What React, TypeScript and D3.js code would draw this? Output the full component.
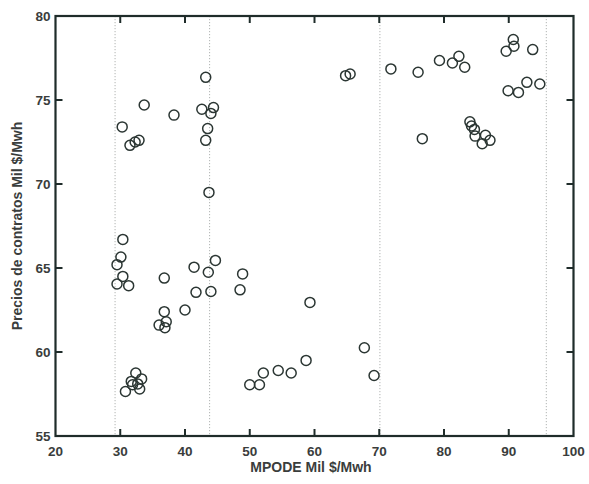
import React from "react";
import * as d3 from "d3";

const mpode: number[] = [
  30.3, 33.7, 31.5, 32.3, 32.9, 38.3, 43.2, 42.6, 44.4, 44.0, 43.5, 43.2, 43.7,
  30.4, 30.1, 29.5, 30.4, 29.5, 31.3, 36.8, 41.4, 44.7, 43.6, 41.7, 44.0, 48.9, 48.5,
  40.0, 36.8, 37.1, 36.0, 36.9,
  32.4, 33.3, 31.9, 32.7, 33.0, 30.8, 31.7,
  50.0, 51.5, 52.1, 54.4, 56.4, 58.7, 59.3, 67.7, 69.2,
  64.8, 65.5, 71.8, 76.0, 79.3, 81.3, 82.3, 83.2, 89.6, 90.7, 90.8, 93.7,
  89.9, 91.5, 92.8, 94.8, 76.65,
  84.0, 84.25, 84.7, 84.8, 86.4, 87.1, 85.9,
];
const precios: number[] = [
  73.4, 74.7, 72.3, 72.5, 72.6, 74.1, 76.35, 74.45, 74.55, 74.2, 73.3, 72.6, 69.5,
  66.7, 65.65, 65.2, 64.5, 64.05, 63.95, 64.4, 65.05, 65.45, 64.75, 63.55, 63.6, 64.65, 63.7,
  62.5, 62.4, 61.8, 61.6, 61.45,
  58.75, 58.4, 58.05, 58.1, 57.8, 57.65, 58.25,
  58.05, 58.05, 58.75, 58.9, 58.75, 59.5, 62.95, 60.25, 58.6,
  76.45, 76.55, 76.85, 76.65, 77.35, 77.2, 77.6, 76.95, 77.9, 78.6, 78.2, 78.0,
  75.55, 75.45, 76.05, 75.95, 72.7,
  73.7, 73.45, 73.25, 72.85, 72.9, 72.6, 72.4,
];
const xTicks: number[] = [20, 30, 40, 50, 60, 70, 80, 90, 100];
const yTicks: number[] = [55, 60, 65, 70, 75, 80];
const refLines: number[] = [29.2, 43.8, 70.1, 95.8];

export default function App() {
  const W = 589, H = 484;
  const left = 55.5, right = 573.5, top = 16, bottom = 436;
  const x = d3.scaleLinear().domain([20, 100]).range([left, right]);
  const y = d3.scaleLinear().domain([55, 80]).range([bottom, top]);
  const axisCol = "#1f2c2a";
  const textCol = "#3a3d3c";
  const font = "'Liberation Sans', Arial, sans-serif";
  const tl = 7;
  return (
    <svg width={W} height={H} style={{ position: "absolute", left: 0, top: 0, background: "#fff" }}>
      {refLines.map((v, i) => (
        <line key={"r" + i} x1={x(v)} x2={x(v)} y1={top} y2={bottom}
          stroke="#a8acaa" strokeWidth={0.9} strokeDasharray="1.2,1.8" />
      ))}
      {xTicks.filter((t) => t > 20 && t < 100).map((t) => (
        <g key={"xt" + t}>
          <line x1={x(t)} x2={x(t)} y1={bottom} y2={bottom - tl} stroke={axisCol} strokeWidth={2} />
          <line x1={x(t)} x2={x(t)} y1={top} y2={top + tl} stroke={axisCol} strokeWidth={2} />
        </g>
      ))}
      {yTicks.filter((t) => t > 55 && t < 80).map((t) => (
        <g key={"yt" + t}>
          <line x1={left} x2={left + tl} y1={y(t)} y2={y(t)} stroke={axisCol} strokeWidth={2} />
          <line x1={right} x2={right - tl} y1={y(t)} y2={y(t)} stroke={axisCol} strokeWidth={2} />
        </g>
      ))}
      <rect x={left} y={top} width={right - left} height={bottom - top} fill="none" stroke={axisCol} strokeWidth={2.2} />
      {xTicks.map((t) => (
        <text key={"xl" + t} x={x(t)} y={bottom + 20} textAnchor="middle" fontFamily={font}
          fontWeight="bold" fontSize={13.5} fill={textCol}>{t}</text>
      ))}
      {yTicks.map((t) => (
        <text key={"yl" + t} x={left - 5} y={y(t) + 4.5} textAnchor="end" fontFamily={font}
          fontWeight="bold" fontSize={13.5} fill={textCol}>{t}</text>
      ))}
      {mpode.map((v, i) => (
        <circle key={"p" + i} cx={x(v)} cy={y(precios[i])} r={5} fill="none"
          stroke="#2b3633" strokeWidth={1.5} />
      ))}
      <text x={311} y={472} textAnchor="middle" fontFamily={font}
        fontWeight="bold" fontSize={14} fill={textCol}>MPODE Mil $/Mwh</text>
      <text transform={`translate(22,${(top + bottom) / 2}) rotate(-90)`} textAnchor="middle"
        fontFamily={font} fontWeight="bold" fontSize={14} fill={textCol}>Precios de contratos Mil $/Mwh</text>
    </svg>
  );
}
